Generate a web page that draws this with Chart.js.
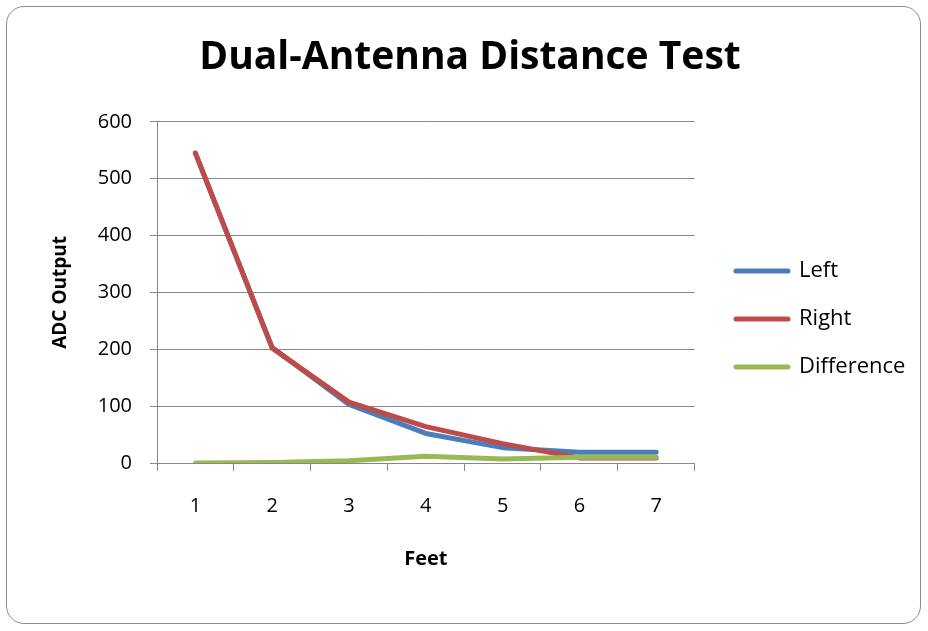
<!DOCTYPE html>
<html>
<head>
<meta charset="utf-8">
<script src="https://cdn.jsdelivr.net/npm/chart.js@4/dist/chart.umd.min.js"></script>
<style>
  html, body { margin: 0; padding: 0; background: #fff; }
  #frame {
    position: absolute; left: 6px; top: 6px; width: 913px; height: 616px;
    border: 1.5px solid #8c8c8c; border-radius: 18px;
  }
  #wrap { position: absolute; left: 0; top: 0; width: 928px; height: 631px; }
</style>
</head>
<body>
<div id="frame"></div>
<div id="wrap"><canvas id="chart" width="928" height="631"></canvas></div>
<script>
const feet = ['1', '2', '3', '4', '5', '6', '7'];
const leftValues = [545, 203, 103, 52, 27, 19, 19];
const rightValues = [545, 202, 107, 64, 34, 9, 9];
const diffValues = [0, 1, 4, 12, 7, 10, 10];

const font = "'Open Sans', sans-serif";

// nudge the legend column to where the original puts it
const legendPlace = {
    id: 'legendPlace',
    afterLayout(chart) {
        const lg = chart.legend;
        lg.left = 710;
        lg.right = 926;
        lg.width = lg.right - lg.left;
        lg.top = 218;
        lg.bottom = 420;
        lg.height = lg.bottom - lg.top;
    }
};

function lineSet(label, data, color, order) {
    return {
        label: label,
        data: data,
        borderColor: color,
        backgroundColor: color,
        borderWidth: 5,
        borderJoinStyle: 'round',
        borderCapStyle: 'round',
        pointRadius: 0,
        tension: 0,
        order: order
    };
}

new Chart(document.getElementById('chart').getContext('2d'), {
    type: 'line',
    data: {
        labels: feet,
        datasets: [
            lineSet('Left', leftValues, '#4a7ebb', 3),
            lineSet('Right', rightValues, '#be4b48', 2),
            lineSet('Difference', diffValues, '#98b954', 1)
        ]
    },
    options: {
        responsive: false,
        animation: false,
        layout: { padding: { left: 40, top: 20, bottom: 56, right: 28 } },
        plugins: {
            title: {
                display: true,
                text: 'Dual-Antenna Distance Test',
                color: '#000',
                font: { family: font, size: 39, weight: 'bold' },
                padding: { top: 14, bottom: 41 }
            },
            legend: {
                position: 'right',
                labels: {
                    color: '#000',
                    font: { family: font, size: 22 },
                    boxWidth: 52,
                    boxHeight: 0,
                    padding: 26,
                    sort: (a, b) => a.datasetIndex - b.datasetIndex
                }
            },
            tooltip: { enabled: false }
        },
        scales: {
            x: {
                offset: true,
                grid: { offset: true, drawOnChartArea: false, tickLength: 8, color: '#888' },
                border: { color: '#888' },
                ticks: { color: '#000', padding: 23, font: { family: font, size: 20 } },
                title: {
                    display: true, text: 'Feet', color: '#000',
                    font: { family: font, size: 20, weight: 'bold' },
                    padding: { top: 6, bottom: 4 }
                }
            },
            y: {
                min: 0,
                max: 600,
                ticks: { stepSize: 100, color: '#000', padding: 18, font: { family: font, size: 20 } },
                grid: { color: '#888', tickLength: 7 },
                border: { color: '#888' },
                title: {
                    display: true, text: 'ADC Output', color: '#000',
                    font: { family: font, size: 19, weight: 'bold' },
                    padding: { top: 9, bottom: 0 }
                },
                afterFit(scale) { scale.width = 117; }
            }
        }
    },
    plugins: [legendPlace]
});
</script>
</body>
</html>
